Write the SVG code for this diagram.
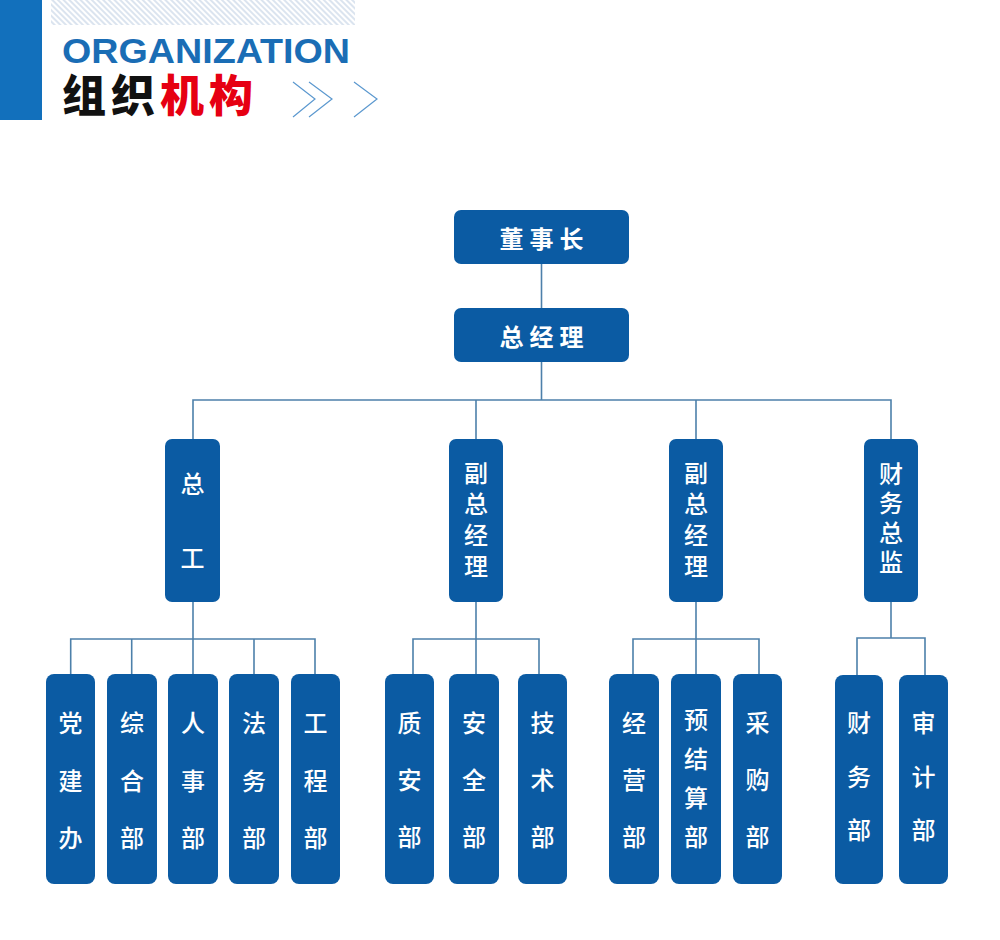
<svg xmlns="http://www.w3.org/2000/svg" width="1000" height="940" viewBox="0 0 1000 940">
<defs>
<pattern id="hatch" width="4" height="4" patternUnits="userSpaceOnUse" patternTransform="rotate(-45)">
<line x1="1" y1="0" x2="1" y2="4" stroke="#c3d2e4" stroke-width="1.2"/>
</pattern>
</defs>
<style>
.box{fill:#0b5ba3;}
.t{fill:#ffffff;font-family:"Noto Sans CJK SC","Noto Sans CJK JP",sans-serif;font-size:24px;font-weight:500;}
.h{text-anchor:middle;dominant-baseline:central;font-weight:700;letter-spacing:6px;}
.v{writing-mode:vertical-rl;text-anchor:start;}
.c{stroke:#4d80aa;stroke-width:1.6;fill:none;}
.chev{stroke:#5b98cf;stroke-width:1.2;fill:none;}
</style>
<rect width="1000" height="940" fill="#ffffff"/>
<g id="header">
<rect x="0" y="0" width="42" height="120" fill="#1270bc"/>
<rect x="51" y="0" width="304" height="25" fill="url(#hatch)"/>
<text x="62" y="63" font-family="Liberation Sans, Arial, sans-serif" font-size="35" font-weight="700" fill="#1a6db5" textLength="288" lengthAdjust="spacingAndGlyphs">ORGANIZATION</text>
<text x="62" y="112" font-family="Noto Sans CJK SC, sans-serif" font-size="44" font-weight="900" letter-spacing="5"><tspan fill="#111111">组织</tspan><tspan fill="#e60012">机构</tspan></text>
<polyline class="chev" points="293,82 315,99 293,117"/>
<polyline class="chev" points="309,82 332,99 309,117"/>
<polyline class="chev" points="354,82 377,99 354,117"/>
</g>
<g id="connectors">
<line class="c" x1="541.5" y1="264" x2="541.5" y2="308"/>
<line class="c" x1="541.5" y1="362" x2="541.5" y2="400"/>
<polyline class="c" points="193,439 193,400 891,400 891,439"/>
<line class="c" x1="476" y1="400" x2="476" y2="439"/>
<line class="c" x1="696" y1="400" x2="696" y2="439"/>
<line class="c" x1="193" y1="602" x2="193" y2="674"/>
<polyline class="c" points="70.7,674 70.7,639 315,639 315,674"/>
<line class="c" x1="131.7" y1="639" x2="131.7" y2="674"/>
<line class="c" x1="254" y1="639" x2="254" y2="674"/>
<line class="c" x1="476" y1="602" x2="476" y2="674"/>
<polyline class="c" points="413,674 413,639 539,639 539,674"/>
<line class="c" x1="696" y1="602" x2="696" y2="674"/>
<polyline class="c" points="633,674 633,639 759,639 759,674"/>
<line class="c" x1="891" y1="602" x2="891" y2="638"/>
<polyline class="c" points="857,675 857,638 925,638 925,675"/>
</g>
<g id="n-chairman">
<rect class="box" x="454" y="210" width="175" height="54" rx="7"/>
<text class="t h" x="544.5" y="237">董事长</text>
</g>
<g id="n-gm">
<rect class="box" x="454" y="308" width="175" height="54" rx="7"/>
<text class="t h" x="544.5" y="335">总经理</text>
</g>
<g id="n-zonggong">
<rect class="box" x="165" y="439" width="55" height="163" rx="7"/>
<text class="t v" x="192.5" y="472" letter-spacing="50">总工</text>
</g>
<g id="n-vgm1">
<rect class="box" x="449" y="439" width="54" height="163" rx="7"/>
<text class="t v" x="476" y="461" letter-spacing="7">副总经理</text>
</g>
<g id="n-vgm2">
<rect class="box" x="669" y="439" width="54" height="163" rx="7"/>
<text class="t v" x="696" y="461" letter-spacing="7">副总经理</text>
</g>
<g id="n-cfo">
<rect class="box" x="864" y="439" width="54" height="163" rx="7"/>
<text class="t v" x="891" y="462" letter-spacing="5.3">财务总监</text>
</g>
<g id="n-dangjian">
<rect class="box" x="46" y="674" width="49" height="210" rx="8"/>
<text class="t v" x="70.5" y="711" letter-spacing="33.5">党建办</text>
</g>
<g id="n-zonghe">
<rect class="box" x="107" y="674" width="50" height="210" rx="8"/>
<text class="t v" x="132" y="711" letter-spacing="33.5">综合部</text>
</g>
<g id="n-renshi">
<rect class="box" x="168" y="674" width="50" height="210" rx="8"/>
<text class="t v" x="193" y="711" letter-spacing="33.5">人事部</text>
</g>
<g id="n-fawu">
<rect class="box" x="229" y="674" width="50" height="210" rx="8"/>
<text class="t v" x="254" y="711" letter-spacing="33.5">法务部</text>
</g>
<g id="n-gongcheng">
<rect class="box" x="291" y="674" width="49" height="210" rx="8"/>
<text class="t v" x="315.5" y="711" letter-spacing="33.5">工程部</text>
</g>
<g id="n-zhian">
<rect class="box" x="385" y="674" width="49" height="210" rx="8"/>
<text class="t v" x="409.5" y="711" letter-spacing="33">质安部</text>
</g>
<g id="n-anquan">
<rect class="box" x="449" y="674" width="50" height="210" rx="8"/>
<text class="t v" x="474" y="711" letter-spacing="33">安全部</text>
</g>
<g id="n-jishu">
<rect class="box" x="518" y="674" width="49" height="210" rx="8"/>
<text class="t v" x="542.5" y="711" letter-spacing="33">技术部</text>
</g>
<g id="n-jingying">
<rect class="box" x="609" y="674" width="50" height="210" rx="8"/>
<text class="t v" x="634" y="711" letter-spacing="33">经营部</text>
</g>
<g id="n-yujiesuan">
<rect class="box" x="671" y="674" width="50" height="210" rx="8"/>
<text class="t v" x="696" y="708" letter-spacing="15">预结算部</text>
</g>
<g id="n-caigou">
<rect class="box" x="733" y="674" width="49" height="210" rx="8"/>
<text class="t v" x="757.5" y="711" letter-spacing="33">采购部</text>
</g>
<g id="n-caiwu">
<rect class="box" x="835" y="675" width="48" height="209" rx="8"/>
<text class="t v" x="859" y="711" letter-spacing="29.5">财务部</text>
</g>
<g id="n-shenji">
<rect class="box" x="899" y="675" width="49" height="209" rx="8"/>
<text class="t v" x="923.5" y="711" letter-spacing="29.5">审计部</text>
</g>
</svg>
